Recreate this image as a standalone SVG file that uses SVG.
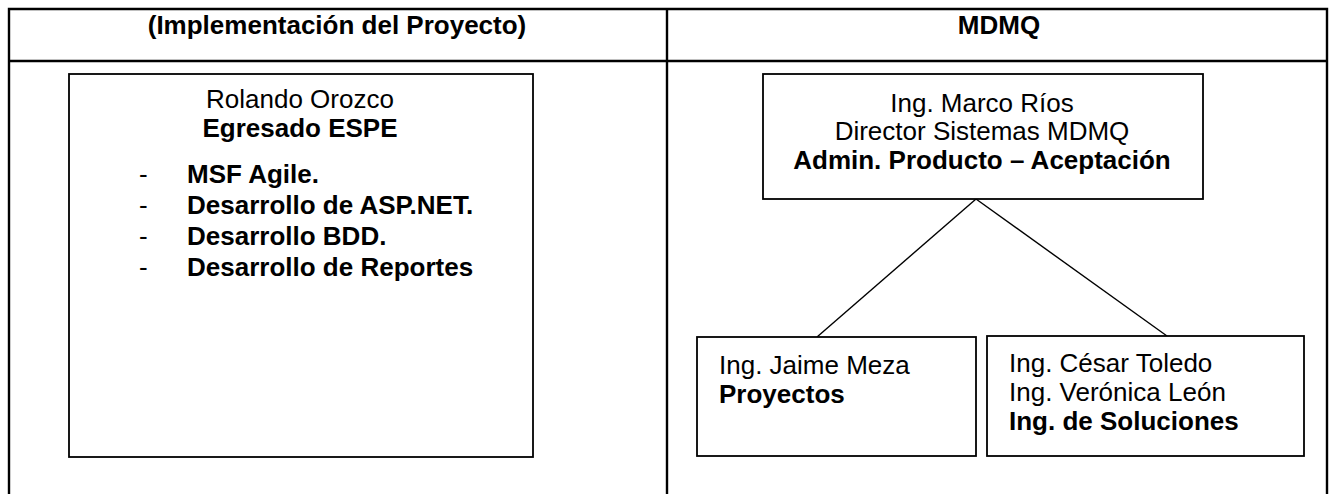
<svg xmlns="http://www.w3.org/2000/svg" width="1333" height="494" viewBox="0 0 1333 494">
<style>
.t{font-family:"Liberation Sans",Arial,sans-serif;font-size:26px;fill:#000}
.b{font-weight:bold}
.box{fill:#fff;stroke:#000;stroke-width:1.8}
.tbl{fill:none;stroke:#000;stroke-width:2.4}
.ln{stroke:#000;stroke-width:1.4;fill:none}
</style>
<rect width="1333" height="494" fill="#fff"/>
<g id="table">
<path class="tbl" d="M9,500 V9 H1327 V500 M9,61 H1327 M667,9 V500"/>
<text class="t b" x="337" y="34" text-anchor="middle">(Implementación del Proyecto)</text>
<text class="t b" x="999" y="34" text-anchor="middle">MDMQ</text>
</g>
<g id="connectors">
<line class="ln" x1="976" y1="199" x2="817" y2="337"/>
<line class="ln" x1="976" y1="199" x2="1167" y2="336"/>
</g>
<g id="rolando">
<rect class="box" x="69" y="74" width="464" height="383"/>
<text class="t" x="300" y="108" text-anchor="middle">Rolando Orozco</text>
<text class="t b" x="300" y="137" text-anchor="middle">Egresado ESPE</text>
<text class="t" x="139" y="183">-</text>
<text class="t b" x="187" y="183">MSF Agile.</text>
<text class="t" x="139" y="214">-</text>
<text class="t b" x="187" y="214">Desarrollo de ASP.NET.</text>
<text class="t" x="139" y="245">-</text>
<text class="t b" x="187" y="245">Desarrollo BDD.</text>
<text class="t" x="139" y="276">-</text>
<text class="t b" x="187" y="276">Desarrollo de Reportes</text>
</g>
<g id="marco">
<rect class="box" x="763" y="74" width="440" height="125"/>
<text class="t" x="982" y="112" text-anchor="middle">Ing. Marco Ríos</text>
<text class="t" x="982" y="140" text-anchor="middle">Director Sistemas MDMQ</text>
<text class="t b" x="982" y="169" text-anchor="middle">Admin. Producto – Aceptación</text>
</g>
<g id="jaime">
<rect class="box" x="697" y="337" width="279" height="119"/>
<text class="t" x="719" y="374">Ing. Jaime Meza</text>
<text class="t b" x="719" y="403">Proyectos</text>
</g>
<g id="cesar">
<rect class="box" x="987" y="336" width="317" height="120"/>
<text class="t" x="1009" y="372">Ing. César Toledo</text>
<text class="t" x="1009" y="401">Ing. Verónica León</text>
<text class="t b" x="1009" y="430">Ing. de  Soluciones</text>
</g>
</svg>
